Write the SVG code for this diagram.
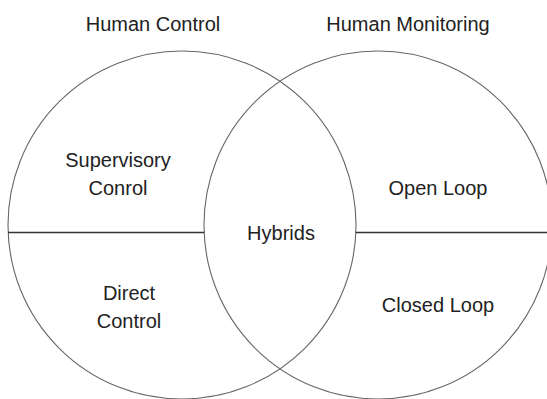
<svg xmlns="http://www.w3.org/2000/svg" width="547" height="399" viewBox="0 0 547 399">
<style>
.c{fill:none;stroke:#666;stroke-width:1.1}
.l{stroke:#333;stroke-width:1.3}
text{font-family:"Liberation Sans",Arial,sans-serif;font-size:20px;fill:#222;text-anchor:middle}
</style>
<rect width="547" height="399" fill="#fff"/>
<g id="title-control"><text x="153" y="31">Human Control</text></g>
<g id="title-monitoring"><text x="408" y="31">Human Monitoring</text></g>
<g id="circle-control"><circle class="c" cx="182" cy="225" r="174"/></g>
<g id="circle-monitoring"><circle class="c" cx="378" cy="225" r="174"/></g>
<g id="connectors">
<line class="l" x1="8" y1="232.5" x2="204" y2="232.5"/>
<line class="l" x1="356" y1="232.5" x2="547" y2="232.5"/>
</g>
<g id="supervisory"><text x="118" y="167">Supervisory</text><text x="118" y="195">Conrol</text></g>
<g id="direct"><text x="129" y="300">Direct</text><text x="129" y="328">Control</text></g>
<g id="hybrids"><text x="281" y="240">Hybrids</text></g>
<g id="open-loop"><text x="438" y="195">Open Loop</text></g>
<g id="closed-loop"><text x="438" y="312">Closed Loop</text></g>
</svg>
